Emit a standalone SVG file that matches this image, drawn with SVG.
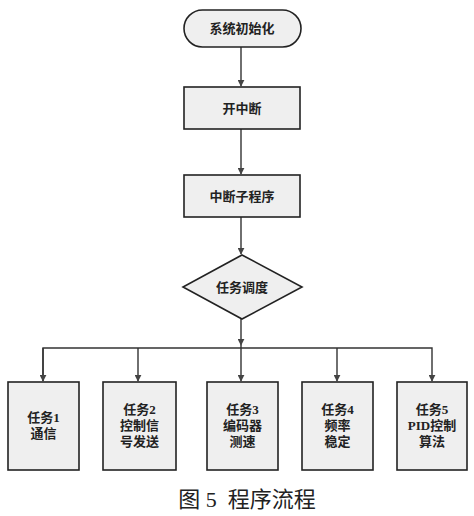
<svg xmlns="http://www.w3.org/2000/svg" width="474" height="516" viewBox="0 0 474 516">
<style>
.n{fill:#efefef;stroke:#222;stroke-width:1.6}
.t{font-family:"Liberation Serif","Noto Sans CJK SC",serif;font-size:13px;font-weight:bold;fill:#222;text-anchor:middle}
.c{fill:none;stroke:#333;stroke-width:1.4}
.cap{font-family:"Liberation Serif","Noto Sans CJK SC",serif;font-size:22px;fill:#222;text-anchor:middle}
</style>
<defs>
<marker id="a" viewBox="0 0 10 10" refX="9" refY="5" markerWidth="7" markerHeight="7" orient="auto" markerUnits="userSpaceOnUse">
<path d="M0,0 L10,5 L0,10 z" fill="#444"/>
</marker>
</defs>
<rect width="474" height="516" fill="#fff"/>
<g id="connectors">
<line class="c" x1="241" y1="47" x2="241" y2="86" marker-end="url(#a)"/>
<line class="c" x1="241" y1="129" x2="241" y2="174" marker-end="url(#a)"/>
<line class="c" x1="241" y1="217" x2="241" y2="254" marker-end="url(#a)"/>
<line class="c" x1="241" y1="319" x2="241" y2="345" marker-end="url(#a)"/>
<polyline class="c" points="43,381 43,348 432,348 432,381" marker-end="url(#a)"/>
<line class="c" x1="43" y1="348" x2="43" y2="381" marker-end="url(#a)"/>
<line class="c" x1="138" y1="348" x2="138" y2="381" marker-end="url(#a)"/>
<line class="c" x1="241" y1="345" x2="241" y2="381" marker-end="url(#a)"/>
<line class="c" x1="337" y1="348" x2="337" y2="381" marker-end="url(#a)"/>
</g>
<g id="start">
<rect class="n" x="184" y="10" width="117" height="37" rx="18.5"/>
<text class="t" x="242" y="33">系统初始化</text>
</g>
<g id="open-int">
<rect class="n" x="184" y="87" width="116" height="42"/>
<text class="t" x="242" y="113">开中断</text>
</g>
<g id="isr">
<rect class="n" x="184" y="175" width="116" height="42"/>
<text class="t" x="242" y="201">中断子程序</text>
</g>
<g id="dispatch">
<polygon class="n" points="242,255 302,287 242,319 183,287"/>
<text class="t" x="242" y="292">任务调度</text>
</g>
<g id="task1">
<rect class="n" x="8" y="382" width="71" height="88"/>
<text class="t" x="43.5" y="422">任务1</text>
<text class="t" x="43.5" y="438">通信</text>
</g>
<g id="task2">
<rect class="n" x="103" y="382" width="73" height="88"/>
<text class="t" x="139.5" y="414">任务2</text>
<text class="t" x="139.5" y="430">控制信</text>
<text class="t" x="139.5" y="446">号发送</text>
</g>
<g id="task3">
<rect class="n" x="207" y="382" width="71" height="88"/>
<text class="t" x="242.5" y="414">任务3</text>
<text class="t" x="242.5" y="430">编码器</text>
<text class="t" x="242.5" y="446">测速</text>
</g>
<g id="task4">
<rect class="n" x="302" y="382" width="71" height="88"/>
<text class="t" x="337.5" y="414">任务4</text>
<text class="t" x="337.5" y="430">频率</text>
<text class="t" x="337.5" y="446">稳定</text>
</g>
<g id="task5">
<rect class="n" x="397" y="382" width="70" height="88"/>
<text class="t" x="432" y="414">任务5</text>
<text class="t" x="432" y="430">PID控制</text>
<text class="t" x="432" y="446">算法</text>
</g>
<text class="cap" x="247" y="507" xml:space="preserve">图 5  程序流程</text>
</svg>
